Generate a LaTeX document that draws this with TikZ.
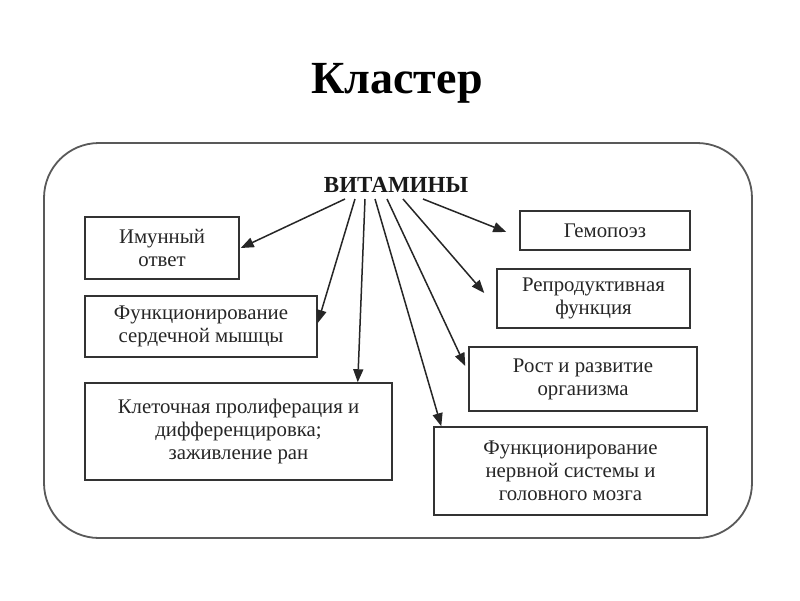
\documentclass[tikz,border=0pt]{standalone}
\usepackage{fontspec}
\setmainfont{Liberation Serif}
\usetikzlibrary{arrows.meta}
\begin{document}
\begin{tikzpicture}[x=1pt,y=-1pt,
  box/.style={draw=black!80, line width=1.5pt, rectangle, inner sep=0pt, align=center,
    text=black!85, font=\fontsize{20.8}{23}\selectfont},
  arr/.style={draw=black!85, line width=1.5pt, -{Triangle[length=13pt,width=10pt]}},
  frame/.style={draw=black!65, line width=1.8pt, rounded corners=55pt}]
\useasboundingbox (0,0) rectangle (800,600);
\fill[white] (0,0) rectangle (800,600);
\node[anchor=base, font=\fontsize{46}{50}\selectfont\bfseries] (title) at (397,93) {Кластер};
\draw[frame] (44,143) rectangle (752,538);
\node[anchor=base, font=\fontsize{23}{26}\selectfont\bfseries, text=black!90] (vit) at (396,192) {ВИТАМИНЫ};
\node[box, minimum width=154pt, minimum height=62pt] (b1) at (162,248) {Имунный\\ответ};
\node[box, minimum width=232pt, minimum height=61pt] (b2) at (201,326.5) {Функционирование\\сердечной мышцы};
\node[box, minimum width=307pt, minimum height=97pt] (b3) at (238.5,431.5) {Клеточная пролиферация и\\дифференцировка;\\заживление ран};
\node[box, minimum width=170pt, minimum height=39pt] (b4) at (605,230.5) {Гемопоэз};
\node[box, minimum width=193pt, minimum height=59pt] (b5) at (593.5,298.5) {Репродуктивная\\функция};
\node[box, minimum width=228pt, minimum height=64pt] (b6) at (583,379) {Рост и развитие\\организма};
\node[box, minimum width=273pt, minimum height=88pt] (b7) at (570.5,471) {Функционирование\\нервной системы и\\головного мозга};
\coordinate (s1) at (345,199);
\coordinate (s2) at (355,199);
\coordinate (s3) at (365,199);
\coordinate (s4) at (375,199);
\coordinate (s5) at (387,199);
\coordinate (s6) at (403,199);
\coordinate (s7) at (423,199);
\draw[arr] (s1) -- ([xshift=1pt]b1.east);
\draw[arr] (s2) -- ([yshift=3.5pt]b2.east);
\draw[arr] (s3) -- ([xshift=-35pt]b3.north east);
\draw[arr] (s4) -- ([xshift=8pt]b7.north west);
\draw[arr] (s5) -- ([xshift=-3pt,yshift=13pt]b6.west);
\draw[arr] (s6) -- ([xshift=-12pt,yshift=5.5pt]b5.west);
\draw[arr] (s7) -- ([xshift=-13pt,yshift=-1.5pt]b4.west);
\end{tikzpicture}
\end{document}
